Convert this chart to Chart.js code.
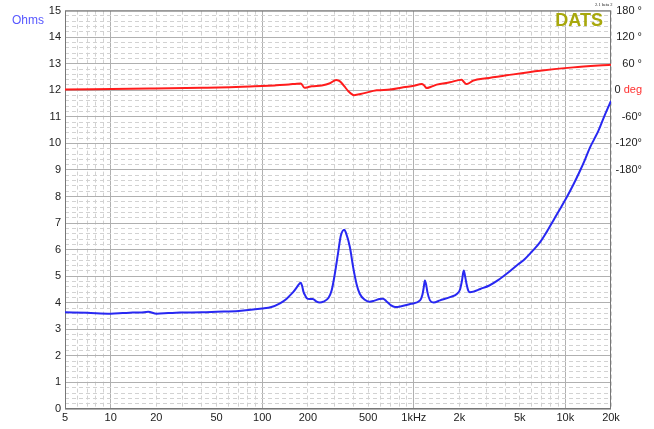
<!DOCTYPE html>
<html>
<head>
<meta charset="utf-8">
<script src="https://cdn.jsdelivr.net/npm/chart.js@4.4.0/dist/chart.umd.min.js"></script>
<style>
  html, body { margin: 0; padding: 0; background: #fff; }
  canvas { display: block; }
</style>
</head>
<body>
<canvas id="chart" width="654" height="429"></canvas>
<script>
// impedance sweep (DATS screen)
const zFreq = [5, 7, 10, 12, 14, 15.6, 17.7, 20.1, 24, 28.7, 40, 50, 70, 100, 115, 131, 143, 152, 160, 169, 175, 179.5,
    183, 187, 193, 197, 205, 216, 227, 240, 253, 274, 287, 300, 316, 330, 348, 356, 379, 398, 419, 440, 475, 510,
    550, 594, 626, 659, 708, 752, 815, 957, 1100, 1140, 1164, 1183, 1205, 1230, 1279, 1350, 1490, 1733, 1931, 2018,
    2080, 2135, 2180, 2230, 2288, 2346, 2470, 2750, 3150, 3600, 4097, 4862, 5274, 6000, 6794, 7500, 8317, 9200,
    10187, 11300, 12470, 13500, 14520, 15500, 16480, 18000, 20000];
const zOhms = [3.64, 3.62, 3.59, 3.61, 3.63, 3.63, 3.66, 3.59, 3.61, 3.63, 3.64, 3.66, 3.69, 3.78, 3.84, 3.98, 4.12, 4.27, 4.40, 4.58, 4.70, 4.75,
    4.65, 4.42, 4.25, 4.17, 4.14, 4.14, 4.05, 4.01, 4.04, 4.19, 4.46, 5.02, 5.84, 6.52, 6.75, 6.65, 6.09, 5.34, 4.71, 4.34, 4.11, 4.04,
    4.08, 4.14, 4.15, 4.06, 3.90, 3.84, 3.86, 3.96, 4.09, 4.30, 4.59, 4.84, 4.70, 4.40, 4.09, 4.01, 4.09, 4.21, 4.34, 4.50,
    4.84, 5.21, 5.00, 4.70, 4.46, 4.40, 4.42, 4.52, 4.65, 4.85, 5.09, 5.44, 5.59, 5.92, 6.27, 6.65, 7.09, 7.52,
    7.96, 8.45, 8.96, 9.40, 9.84, 10.16, 10.46, 11.0, 11.6];

const phFreq = [5, 18, 40, 61, 83, 100, 124, 150, 169, 180, 190, 200, 212, 247, 280, 307, 322, 334, 350, 370, 403, 464,
    569, 696, 853, 1000, 1127, 1170, 1216, 1300, 1416, 1733, 2069, 2150, 2231, 2470, 3000, 4097, 6794, 11270, 20000];
const phDeg = [1.5, 3.8, 5.5, 6.75, 8.5, 9.5, 11.25, 13, 15, 15.5, 5.5, 7, 9, 11, 16, 23, 21, 16.5, 8, -2, -11, -7,
    0, 1.5, 6.75, 10, 14, 11, 5, 8, 12.75, 18, 24, 18, 14, 21.8, 27, 33.75, 44, 51.75, 57.8];

const xTicks = [5, 10, 20, 50, 100, 200, 500, 1000, 2000, 5000, 10000, 20000];
const xLabels = ['5', '10', '20', '50', '100', '200', '500', '1kHz', '2k', '5k', '10k', '20k'];
const xDecades = [10, 100, 1000, 10000];
const degShown = [-180, -120, -60, 0, 60, 120, 180];

// minor log grid: 1..9 per decade, decades themselves get the solid line
const xMinor = [];
for (const d of [1, 10, 100, 1000, 10000]) {
    for (let m = 1; m <= 9; m++) {
        const v = m * d;
        if (v >= 5 && v <= 20000 && xDecades.indexOf(v) < 0) xMinor.push(v);
    }
}

const FONT = "'Liberation Sans', Arial, Helvetica, sans-serif";
const tickFont = { family: FONT, size: 11 };
const NBSP = '\u00a0';

function pairs(xs, ys) {
    return xs.map((x, i) => ({ x: x, y: ys[i] }));
}

const overlay = {
    id: 'overlay',
    beforeDatasetsDraw(chart) {
        const a = chart.chartArea;
        const ctx = chart.ctx;
        ctx.save();
        ctx.strokeStyle = '#777';
        ctx.lineWidth = 1;
        ctx.strokeRect(a.left + 0.5, a.top + 0.5, a.right - a.left - 1, a.bottom - a.top - 1);
        ctx.restore();
    },
    afterDraw(chart) {
        const ctx = chart.ctx;
        const ph = chart.scales.yPhase;
        ctx.save();
        ctx.textBaseline = 'middle';

        ctx.font = '12px ' + FONT;
        ctx.fillStyle = '#5858ff';
        ctx.textAlign = 'left';
        ctx.fillText('Ohms', 12, 21);

        // red unit next to the "0" phase tick (the tick label is padded to leave room)
        ctx.font = '11px ' + FONT;
        ctx.fillStyle = '#ff3030';
        ctx.textAlign = 'right';
        ctx.fillText('deg', ph.right, ph.getPixelForValue(0));

        ctx.font = 'bold 18px ' + FONT;
        ctx.fillStyle = '#a8a80c';
        ctx.textBaseline = 'alphabetic';
        ctx.fillText('DATS', 603, 26);

        ctx.font = '4.5px "Liberation Serif", serif';
        ctx.fillStyle = '#222';
        ctx.textAlign = 'left';
        ctx.textBaseline = 'middle';
        ctx.fillText('2.1 beta 2', 595, 5);
        ctx.restore();
    }
};

const ctx = document.getElementById('chart').getContext('2d');
new Chart(ctx, {
    type: 'line',
    data: {
        datasets: [{
            label: 'Ohms',
            data: pairs(zFreq, zOhms),
            yAxisID: 'y',
            borderColor: '#2828f2',
            borderWidth: 2,
            pointRadius: 0,
            cubicInterpolationMode: 'monotone'
        }, {
            label: 'deg',
            data: pairs(phFreq, phDeg),
            yAxisID: 'yPhase',
            borderColor: '#ff1c1c',
            borderWidth: 2,
            pointRadius: 0,
            cubicInterpolationMode: 'monotone'
        }]
    },
    options: {
        responsive: false,
        animation: false,
        devicePixelRatio: 1,
        layout: { padding: { top: 9, left: 0, right: 12, bottom: 0 } },
        plugins: { legend: { display: false }, tooltip: { enabled: false } },
        scales: {
            xMinor: {
                type: 'logarithmic', position: 'bottom', min: 5, max: 20000,
                afterBuildTicks: s => { s.ticks = xMinor.map(v => ({ value: v })); },
                afterFit: s => { s.height = 0; },
                ticks: { display: false },
                grid: { color: '#d2d2d2', drawTicks: false },
                border: { display: false, dash: [4, 3] }
            },
            x: {
                type: 'logarithmic', position: 'bottom', min: 5, max: 20000,
                afterBuildTicks: s => { s.ticks = xTicks.map(v => ({ value: v })); },
                afterFit: s => { s.height = 20; },
                ticks: {
                    autoSkip: false, maxRotation: 0, padding: 2, color: '#222', font: tickFont,
                    callback: (v) => xLabels[xTicks.indexOf(v)]
                },
                grid: {
                    drawTicks: false,
                    color: c => xDecades.indexOf(c.tick.value) >= 0 ? '#b0b0b0' : 'rgba(0,0,0,0)'
                },
                border: { display: false }
            },
            yMinor: {
                type: 'linear', position: 'left', min: 0, max: 15,
                afterFit: s => { s.width = 0; },
                ticks: { display: false, stepSize: 0.2, autoSkip: false },
                grid: {
                    drawTicks: false,
                    color: c => Math.abs(c.tick.value - Math.round(c.tick.value)) < 1e-6 ? 'rgba(0,0,0,0)' : '#d2d2d2'
                },
                border: { display: false, dash: [4, 3] }
            },
            y: {
                type: 'linear', position: 'left', min: 0, max: 15,
                afterFit: s => { s.width = 65; },
                ticks: { stepSize: 1, padding: 4, color: '#222', font: tickFont },
                grid: { color: '#b0b0b0', drawTicks: false },
                border: { display: false }
            },
            yPhase: {
                type: 'linear', position: 'right', min: -720, max: 180,
                afterFit: s => { s.width = 31; },
                ticks: {
                    stepSize: 60, autoSkip: false, padding: 4, crossAlign: 'far', color: '#222', font: tickFont,
                    callback: (v) => {
                        if (degShown.indexOf(v) < 0) return '';
                        if (v === 0) return '0' + NBSP.repeat(7);
                        return v > 0 ? v + ' \u00b0' : v + '\u00b0';
                    }
                },
                grid: { display: false, drawTicks: false },
                border: { display: false }
            }
        }
    },
    plugins: [overlay]
});
</script>
</body>
</html>
